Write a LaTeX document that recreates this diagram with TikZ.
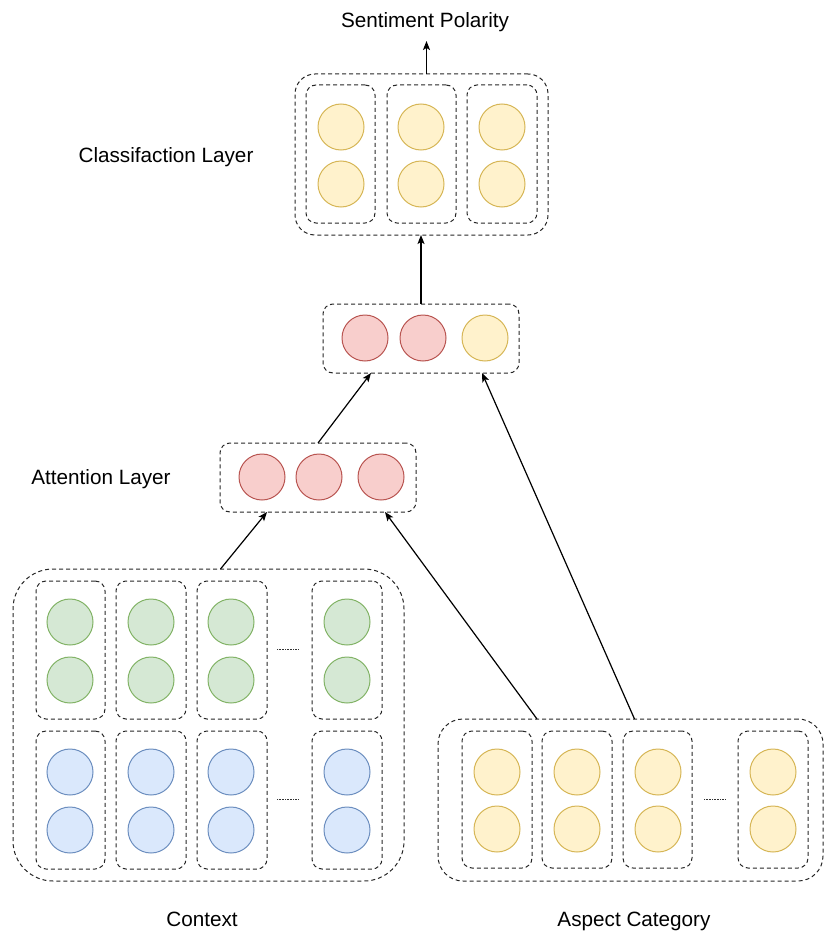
\documentclass[tikz,border=0pt]{standalone}
\usepackage{fontspec}
\setmainfont{Liberation Sans}
\usetikzlibrary{arrows.meta}
\definecolor{yfill}{HTML}{FFF2CC}\definecolor{ydraw}{HTML}{D6B656}
\definecolor{rfill}{HTML}{F8CECC}\definecolor{rdraw}{HTML}{B85450}
\definecolor{gfill}{HTML}{D5E8D4}\definecolor{gdraw}{HTML}{82B366}
\definecolor{bfill}{HTML}{DAE8FC}\definecolor{bdraw}{HTML}{6C8EBF}
\newcommand{\mybox}[6]{\node[dbox, rounded corners=#6pt, minimum width={(#4-#2)*1pt}, minimum height={(#5-#3)*1pt}] (#1) at ({(#2+#4)/2},{(#3+#5)/2}) {};}
\tikzset{
  dbox/.style={draw=black!85, dash pattern=on 4pt off 3pt, line width=1pt, rectangle, inner sep=0pt, outer sep=0pt},
  circ/.style={circle, minimum size=46pt, inner sep=0pt, line width=1pt},
  yc/.style={circ, fill=yfill, draw=ydraw},
  rc/.style={circ, fill=rfill, draw=rdraw},
  gc/.style={circ, fill=gfill, draw=gdraw},
  bc/.style={circ, fill=bfill, draw=bdraw},
  lbl/.style={font=\fontsize{20.7}{24}\selectfont, inner sep=0pt},
  arr/.style={-{Stealth[length=9pt,width=7pt,inset=2pt]}, line width=1.2pt, black},
  dots/.style={line width=0.6pt, dash pattern=on 0.8pt off 0.8pt, black!80}
}
\begin{document}
\begin{tikzpicture}[x=1pt,y=-1pt]
\useasboundingbox (0,0) rectangle (824,931);
% labels
\node[lbl] (sp) at (425,22) {Sentiment Polarity};
\node[lbl] (cl) at (166,157) {Classifaction Layer};
\node[lbl] (al) at (101,479) {Attention Layer};
\node[lbl] (cx) at (202,919) {Context};
\node[lbl] (ac) at (634,921) {Aspect Category};
% classification layer
\mybox{cls}{295}{74}{548}{235}{20}
\mybox{c1}{306}{85}{375}{223}{10}
\mybox{c2}{387}{85}{456}{223}{10}
\mybox{c3}{467}{85}{537}{223}{10}
\node[yc] (c1a) at (341,127) {}; \node[yc] (c1b) at (341,184) {};
\node[yc] (c2a) at (421,127) {}; \node[yc] (c2b) at (421,184) {};
\node[yc] (c3a) at (502,127) {}; \node[yc] (c3b) at (502,184) {};
% merge box
\mybox{mid}{323}{304}{519}{373}{10}
\node[rc] (m1) at (365,338) {};
\node[rc] (m2) at (423,338) {};
\node[yc] (m3) at (485,338) {};
% attention box
\mybox{att}{220}{443}{416}{512}{10}
\node[rc] (a1) at (262,477) {};
\node[rc] (a2) at (319,477) {};
\node[rc] (a3) at (381,477) {};
% context
\mybox{ctx}{13}{569}{404}{881}{40}
\mybox{g1}{36}{581}{105}{719}{10}
\mybox{g2}{116}{581}{186}{719}{10}
\mybox{g3}{197}{581}{267}{719}{10}
\mybox{g4}{312}{581}{382}{719}{10}
\mybox{b1}{36}{731}{105}{869}{10}
\mybox{b2}{116}{731}{186}{869}{10}
\mybox{b3}{197}{731}{267}{869}{10}
\mybox{b4}{312}{731}{382}{869}{10}
\node[gc] (g1a) at (70,622) {}; \node[gc] (g1b) at (70,680) {};
\node[gc] (g2a) at (151,622) {}; \node[gc] (g2b) at (151,680) {};
\node[gc] (g3a) at (231,622) {}; \node[gc] (g3b) at (231,680) {};
\node[gc] (g4a) at (347,622) {}; \node[gc] (g4b) at (347,680) {};
\node[bc] (b1a) at (70,772) {}; \node[bc] (b1b) at (70,830) {};
\node[bc] (b2a) at (151,772) {}; \node[bc] (b2b) at (151,830) {};
\node[bc] (b3a) at (231,772) {}; \node[bc] (b3b) at (231,830) {};
\node[bc] (b4a) at (347,772) {}; \node[bc] (b4b) at (347,830) {};
\draw[dots] (277,649) -- (299,649);
\draw[dots] (277,799) -- (299,799);
% aspect
\mybox{asp}{438}{719}{823}{881}{25}
\mybox{y1}{462}{731}{532}{868}{10}
\mybox{y2}{542}{731}{612}{868}{10}
\mybox{y3}{623}{731}{692}{868}{10}
\mybox{y4}{738}{731}{808}{868}{10}
\node[yc] (y1a) at (497,772) {}; \node[yc] (y1b) at (497,829) {};
\node[yc] (y2a) at (577,772) {}; \node[yc] (y2b) at (577,829) {};
\node[yc] (y3a) at (658,772) {}; \node[yc] (y3b) at (658,829) {};
\node[yc] (y4a) at (773,772) {}; \node[yc] (y4b) at (773,829) {};
\draw[dots] (704,799) -- (726,799);
% connectors
\coordinate (spt) at (426.5,41);
\draw[arr] ([xshift=5pt]cls.north) -- (spt);
\draw[arr] (mid.north) -- (mid.north |- cls.south);
\draw[arr] (att.north) -- ([xshift=-50pt]mid.south);
\draw[arr] ([xshift=4pt]asp.north) -- ([xshift=61pt]mid.south);
\draw[arr] ([xshift=12pt]ctx.north) -- ([xshift=-51pt]att.south);
\draw[arr] ([xshift=-93.5pt]asp.north) -- ([xshift=67pt]att.south);
\end{tikzpicture}
\end{document}
